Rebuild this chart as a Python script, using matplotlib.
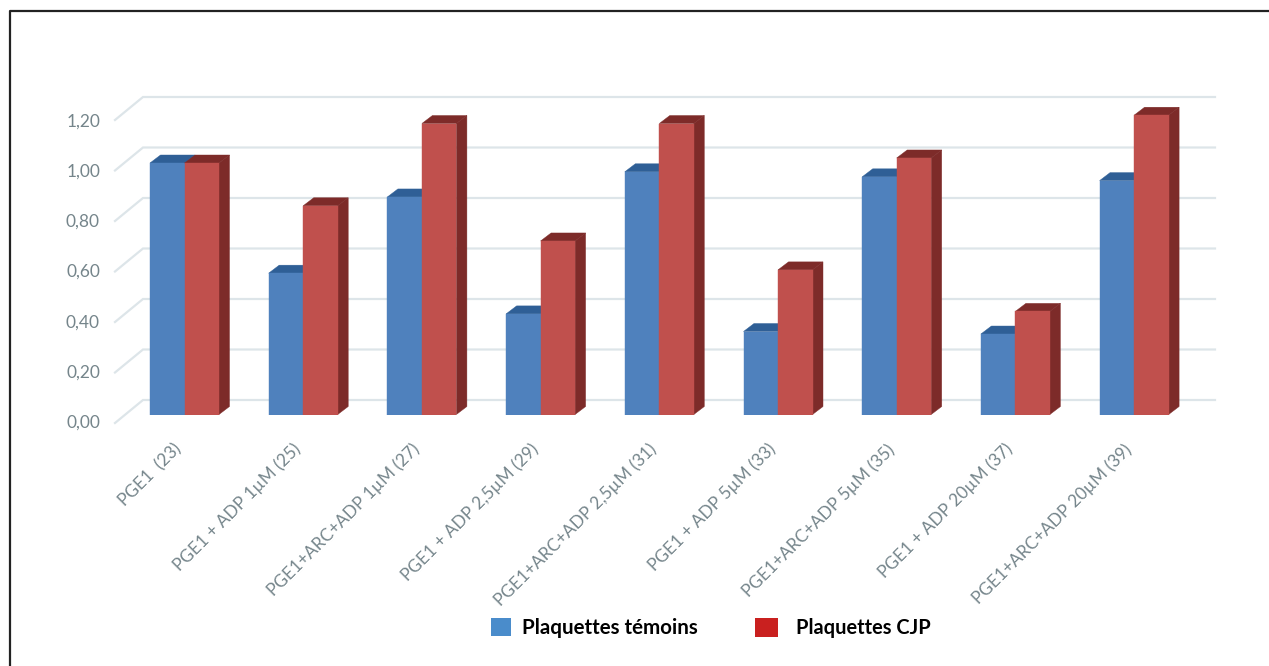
import matplotlib
matplotlib.use("Agg")
import matplotlib.pyplot as plt
from matplotlib.patches import Polygon, Rectangle
from matplotlib.transforms import ScaledTranslation

categories = ["PGE1  (23)", "PGE1 + ADP 1µM (25)", "PGE1+ARC+ADP 1µM (27)",
              "PGE1 + ADP 2,5µM (29)", "PGE1+ARC+ADP 2,5µM (31)", "PGE1 + ADP 5µM (33)",
              "PGE1+ARC+ADP 5µM (35)", "PGE1 + ADP 20µM (37)", "PGE1+ARC+ADP 20µM (39)"]
temoins = [1.00, 0.562, 0.865, 0.40, 0.965, 0.33, 0.945, 0.32, 0.93]
cjp = [1.00, 0.83, 1.157, 0.69, 1.157, 0.575, 1.02, 0.41, 1.19]
yticks = [0.0, 0.2, 0.4, 0.6, 0.8, 1.0, 1.2]
ytick_labels = ["0,00", "0,20", "0,40", "0,60", "0,80", "1,00", "1,20"]
series_names = ["Plaquettes témoins", "Plaquettes CJP"]

W, H = 1269, 666
fig = plt.figure(figsize=(W / 100, H / 100), dpi=100, facecolor="white")
plt.rcParams["font.family"] = ["Lato", "DejaVu Sans"]

# Axes placed in pixels: x=0 category centre at 184.5 px, spacing 118.7 px; y=0 at 414.5 px, 251.5 px/unit
px_cat, px_val = 118.7, 251.5
L, R, B, T = 60, 1250, 414.5, 60
ax = fig.add_axes([L / W, 1 - B / H, (R - L) / W, (B - T) / H])
ax.set_xlim((L - 184.5) / px_cat, (R - 184.5) / px_cat)
ax.set_ylim(0, (B - T) / px_val)
ax.patch.set_alpha(0)
for s in ax.spines.values():
    s.set_visible(False)

GRID = "#dde5e9"
TXT = "#75858b"
bw = 34.5 / px_cat
ddx, ddy = 10.5 / px_cat, 8 / px_val       # bar depth
wall_x0 = (143 - 184.5) / px_cat
wall_x1 = (1215 - 184.5) / px_cat
diag_x0 = (115 - 184.5) / px_cat
for v, lab in zip(yticks, ytick_labels):
    back = v * 252.5 / px_val + 14.5 / px_val
    front = v * 252.5 / px_val - 8.5 / px_val
    ax.plot([diag_x0, wall_x0, wall_x1], [front, back, back], color=GRID, lw=1.6,
            clip_on=False, zorder=1, solid_joinstyle="miter")
    ax.text((100 - 184.5) / px_cat, v - 8.5 / px_val, lab, ha="right",
            va="center", fontsize=12.5, color=TXT, zorder=5)

def bar3d(x0, v, front, top, side, z):
    x1 = x0 + bw
    ax.add_patch(Polygon([(x1, 0), (x1 + ddx, ddy), (x1 + ddx, v + ddy), (x1, v)],
                         closed=True, fc=side, ec=side, lw=0.3, zorder=z))
    ax.add_patch(Polygon([(x0, v), (x0 + ddx, v + ddy), (x1 + ddx, v + ddy), (x1, v)],
                         closed=True, fc=top, ec=top, lw=0.3, zorder=z))
    ax.bar(x0, v, width=bw, align="edge", color=front, ec=front, lw=0.3, zorder=z + 0.5)

for i, (a, b) in enumerate(zip(temoins, cjp)):
    bar3d(i - bw, a, "#4f81bd", "#2f5f96", "#2f5f96", 2)
    bar3d(i, b, "#c0504d", "#7d2b29", "#7d2b29", 3)

ax.set_xticks(range(len(categories)))
ax.set_xticklabels(categories, rotation=45, ha="right", va="top", rotation_mode="anchor",
                   fontsize=12.4, color=TXT)
ax.tick_params(axis="x", length=0, pad=19)
ax.set_yticks([])
shift = ScaledTranslation(-11 / 100, 0, fig.dpi_scale_trans)
for lbl in ax.get_xticklabels():
    lbl.set_transform(lbl.get_transform() + shift)

# Legend and frame drawn in figure pixel coordinates
def fx(x): return x / W
def fy(y): return 1 - y / H
fig.add_artist(Rectangle((fx(491), fy(636)), 20 / W, 18 / H, transform=fig.transFigure, fc="#4a8ccb", ec="none"))
fig.add_artist(Rectangle((fx(755), fy(637)), 23 / W, 19 / H, transform=fig.transFigure, fc="#c9201f", ec="none"))
fig.text(fx(522), fy(628), series_names[0], fontsize=14.8, fontweight="bold", va="center", color="black")
fig.text(fx(796), fy(628), series_names[1], fontsize=14.4, fontweight="bold", va="center", color="black")
fig.add_artist(plt.Line2D([fx(10), fx(10), fx(1269)], [fy(666), fy(10.5), fy(10.5)],
                          transform=fig.transFigure, color="#222222", lw=1.6))

fig.savefig("out.png", dpi=100, facecolor="white")
